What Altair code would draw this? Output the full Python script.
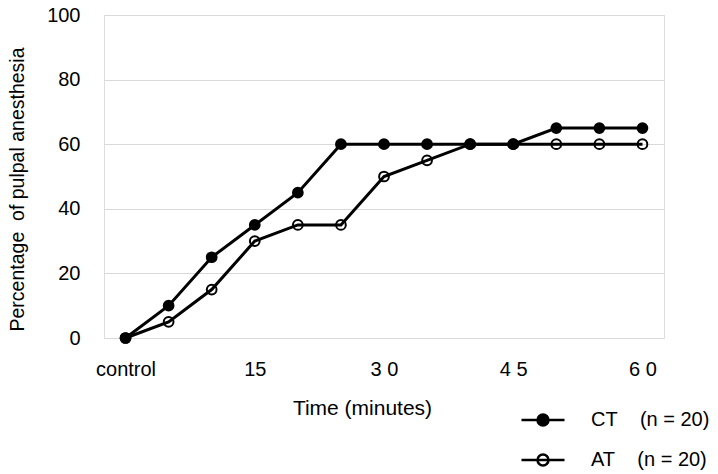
import altair as alt
import pandas as pd

times = ["control", "5", "10", "15", "20", "25", "30", "35", "40", "45", "50", "55", "60"]
ct_values = [0, 10, 25, 35, 45, 60, 60, 60, 60, 60, 65, 65, 65]
at_values = [0, 5, 15, 30, 35, 35, 50, 55, 60, 60, 60, 60, 60]
series_names = ["CT", "AT"]
shown_labels = {"control": "control", "15": "15", "30": "3 0", "45": "4 5", "60": "6 0"}
y_ticks = [0, 20, 40, 60, 80, 100]

rows = []
for s, vals in zip(series_names, [ct_values, at_values]):
    for t, v in zip(times, vals):
        rows.append({"time": t, "value": v, "series": s})
df = pd.DataFrame(rows)

label_expr = "".join(
    f"datum.value == '{k}' ? '{v}' : " for k, v in shown_labels.items()
) + "''"

FONT = "Liberation Sans"
NB = "\u00a0"

x = alt.X(
    "time:N",
    sort=times,
    scale=alt.Scale(type="point", padding=0.5),
    axis=alt.Axis(
        title="Time (minutes)",
        labelExpr=label_expr,
        labelAngle=0,
        labelOverlap=False,
        labelPadding=21,
        labelFontSize=20,
        labelFont=FONT,
        labelColor="black",
        domain=False,
        ticks=False,
        grid=False,
        titleFont=FONT,
        titleFontSize=21,
        titleFontWeight="normal",
        titleColor="black",
        titleX=258,
        titleY=70,
        titleBaseline="middle",
    ),
)
y = alt.Y(
    "value:Q",
    scale=alt.Scale(domain=[0, 100], nice=False),
    axis=alt.Axis(
        title="Percentage" + NB + NB + "of pulpal anesthesia",
        values=y_ticks,
        labelPadding=24,
        labelFontSize=20,
        labelFont=FONT,
        labelColor="black",
        domain=False,
        ticks=False,
        grid=True,
        gridColor="#d9d9d9",
        gridWidth=1,
        titleFont=FONT,
        titleFontSize=19.5,
        titleFontWeight="normal",
        titleColor="black",
        titleX=-87,
        titleY=174,
        titleAngle=-90,
        titleAlign="center",
        titleBaseline="middle",
    ),
)

lines = alt.Chart(df).mark_line(color="black", strokeWidth=3).encode(
    x=x, y=y, detail="series:N"
)

legend_path = "M-2,0H2M0.51,0A0.51,0.51,0,1,1,-0.51,0A0.51,0.51,0,1,1,0.51,0Z"

points = alt.Chart(df).mark_point(
    shape="circle", size=95, stroke="black", strokeWidth=2, opacity=1
).encode(
    x=x,
    y=y,
    fill=alt.Fill(
        "series:N",
        scale=alt.Scale(domain=series_names, range=["black", "transparent"]),
        legend=alt.Legend(
            title=None,
            orient="none",
            legendX=427,
            legendY=393,
            padding=0,
            symbolType=legend_path,
            symbolSize=462,
            symbolStrokeColor="black",
            symbolStrokeWidth=2.5,
            symbolOpacity=1,
            labelOffset=36,
            rowPadding=17,
            labelFont=FONT,
            labelFontSize=20,
            labelColor="black",
            labelLimit=300,
            labelExpr=f"datum.label + '{NB*4}(n = 20)'",
        ),
    ),
)

chart = (
    alt.layer(lines, points)
    .properties(
        width=560,
        height=323,
        autosize=alt.AutoSizeParams(type="none"),
        padding={"left": 96, "top": 7, "right": 46, "bottom": 132},
    )
    .configure_view(stroke=None)
    .configure(background="white")
)

chart.save("out.html", embed_options={"renderer": "svg", "actions": False})
